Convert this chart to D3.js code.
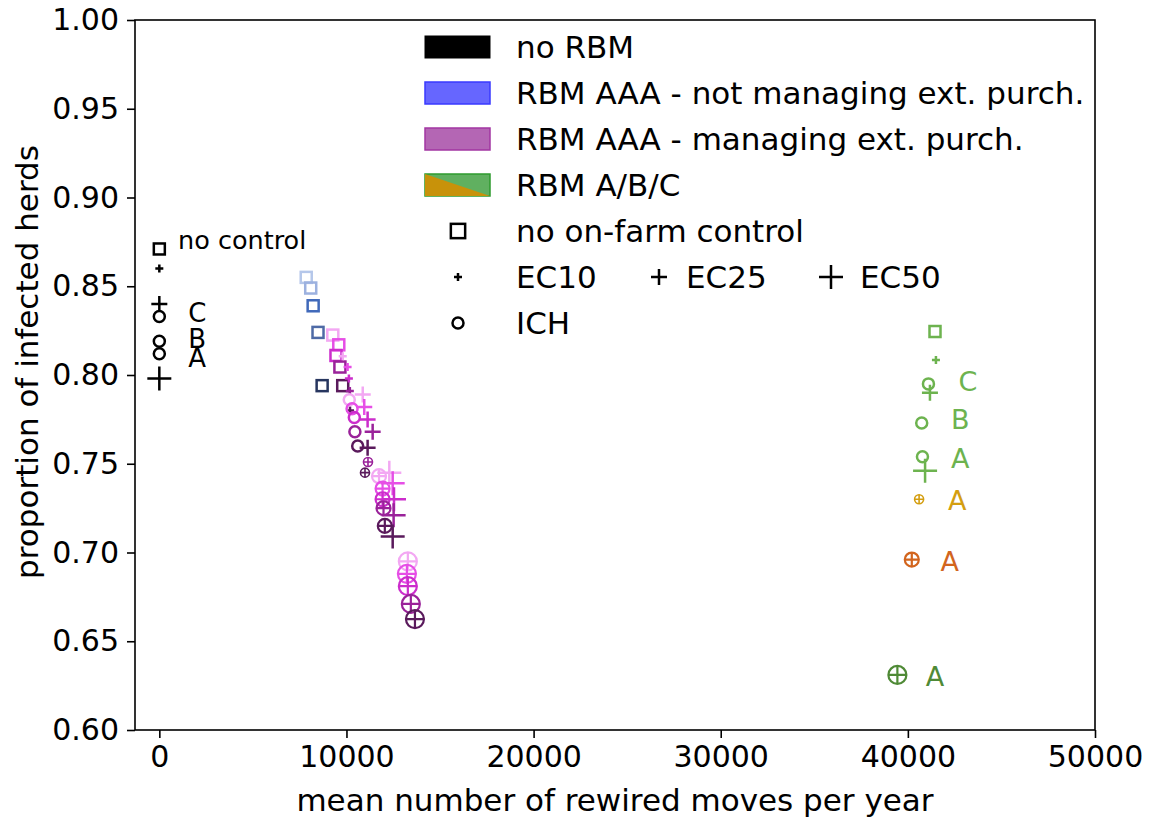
<!DOCTYPE html>
<html>
<head>
<meta charset="utf-8">
<script src="https://cdn.jsdelivr.net/npm/d3@7/dist/d3.min.js"></script>
<style>
  body { margin: 0; background: #fff; }
  text { font-family: "DejaVu Sans", sans-serif; }
</style>
</head>
<body>
<div id="chart"></div>
<script>
// ---- data ----
// kinds: none = no on-farm control, EC10/EC25/EC50, ICH, ICH+ECxx
var noRbm = [
  {kind: "none", x: 0, y: 0.871},
  {kind: "EC10", x: 0, y: 0.860},
  {kind: "EC25", x: 0, y: 0.840},
  {kind: "ICH",  x: 0, y: 0.833},
  {kind: "ICH",  x: 0, y: 0.819},
  {kind: "ICH",  x: 0, y: 0.812},
  {kind: "EC50", x: 0, y: 0.798}
];
var noRbmLabels = [
  {text: "C", x: 1550, y: 0.835},
  {text: "B", x: 1550, y: 0.8205},
  {text: "A", x: 1550, y: 0.8095}
];

// RBM AAA not managing ext. purchases, shade 0 (light) .. 4 (dark)
var aaaNotManaging = [
  {kind: "none", shade: 0, x: 7850, y: 0.855},
  {kind: "none", shade: 1, x: 8090, y: 0.849},
  {kind: "none", shade: 2, x: 8220, y: 0.839},
  {kind: "none", shade: 3, x: 8480, y: 0.824},
  {kind: "none", shade: 4, x: 8700, y: 0.794}
];

// RBM AAA managing ext. purchases
var aaaManaging = [
  {kind: "none", shade: 0, x: 9270, y: 0.8225},
  {kind: "none", shade: 1, x: 9590, y: 0.817},
  {kind: "none", shade: 2, x: 9440, y: 0.811},
  {kind: "none", shade: 3, x: 9650, y: 0.8045},
  {kind: "none", shade: 4, x: 9800, y: 0.794},
  {kind: "EC10", shade: 0, x: 9800, y: 0.8105},
  {kind: "EC10", shade: 1, x: 10060, y: 0.8045},
  {kind: "EC10", shade: 2, x: 10130, y: 0.798},
  {kind: "EC10", shade: 3, x: 10180, y: 0.791},
  {kind: "EC10", shade: 4, x: 10190, y: 0.780},
  {kind: "ICH",  shade: 0, x: 10150, y: 0.786},
  {kind: "ICH",  shade: 1, x: 10300, y: 0.781},
  {kind: "ICH",  shade: 2, x: 10420, y: 0.776},
  {kind: "ICH",  shade: 3, x: 10450, y: 0.768},
  {kind: "ICH",  shade: 4, x: 10600, y: 0.760},
  {kind: "EC25", shade: 0, x: 10870, y: 0.789},
  {kind: "EC25", shade: 1, x: 10950, y: 0.782},
  {kind: "EC25", shade: 2, x: 11130, y: 0.775},
  {kind: "EC25", shade: 3, x: 11400, y: 0.768},
  {kind: "EC25", shade: 4, x: 11130, y: 0.759},
  {kind: "ICH+EC10", shade: 3, x: 11150, y: 0.751},
  {kind: "ICH+EC10", shade: 4, x: 10990, y: 0.745},
  {kind: "ICH+EC25", shade: 0, x: 11740, y: 0.743},
  {kind: "ICH+EC25", shade: 1, x: 11930, y: 0.736},
  {kind: "ICH+EC25", shade: 2, x: 11930, y: 0.730},
  {kind: "ICH+EC25", shade: 3, x: 11980, y: 0.725},
  {kind: "ICH+EC25", shade: 4, x: 12050, y: 0.715},
  {kind: "EC50", shade: 0, x: 12290, y: 0.745},
  {kind: "EC50", shade: 1, x: 12470, y: 0.739},
  {kind: "EC50", shade: 2, x: 12540, y: 0.730},
  {kind: "EC50", shade: 3, x: 12520, y: 0.721},
  {kind: "EC50", shade: 4, x: 12470, y: 0.709},
  {kind: "ICH+EC50", shade: 0, x: 13280, y: 0.695},
  {kind: "ICH+EC50", shade: 1, x: 13230, y: 0.688},
  {kind: "ICH+EC50", shade: 2, x: 13280, y: 0.681},
  {kind: "ICH+EC50", shade: 3, x: 13440, y: 0.671},
  {kind: "ICH+EC50", shade: 4, x: 13660, y: 0.6625}
];

// RBM A/B/C
var rbmABC = [
  {kind: "none", tone: "green", x: 41450, y: 0.8245},
  {kind: "EC10", tone: "green", x: 41500, y: 0.8085},
  {kind: "ICH",  tone: "green", x: 41100, y: 0.795},
  {kind: "EC25", tone: "green", x: 41180, y: 0.790},
  {kind: "ICH",  tone: "green", x: 40740, y: 0.773},
  {kind: "ICH",  tone: "green", x: 40780, y: 0.754},
  {kind: "EC50", tone: "green", x: 40920, y: 0.746},
  {kind: "ICH+EC10", tone: "gold",   x: 40600, y: 0.730},
  {kind: "ICH+EC25", tone: "orange", x: 40210, y: 0.696},
  {kind: "ICH+EC50", tone: "dkgreen", x: 39440, y: 0.631}
];
var rbmABCLabels = [
  {text: "C", tone: "green",   x: 42700, y: 0.7966},
  {text: "B", tone: "green",   x: 42300, y: 0.7752},
  {text: "A", tone: "green",   x: 42300, y: 0.7532},
  {text: "A", tone: "gold",    x: 42150, y: 0.7296},
  {text: "A", tone: "orange",  x: 41750, y: 0.6952},
  {text: "A", tone: "dkgreen", x: 40950, y: 0.6304}
];

var xTicks = [0, 10000, 20000, 30000, 40000, 50000];
var yTicks = [0.60, 0.65, 0.70, 0.75, 0.80, 0.85, 0.90, 0.95, 1.00];

var legendPatches = ["no RBM", "RBM AAA - not managing ext. purch.", "RBM AAA - managing ext. purch.", "RBM A/B/C"];

// ---- styles ----
var blueShades = ["#b5c7ea", "#9cb1df", "#4069ba", "#4e6aa6", "#27365f"];
var magentaShades = ["#f3a8f3", "#e64ee6", "#cc2dcc", "#9a229a", "#5a1a5c"];
var tones = {green: "#6db34f", gold: "#d49e10", orange: "#d2651e", dkgreen: "#4f8a36"};

var width = 1152, height = 818;
var margin = {left: 135, right: 57, top: 20, bottom: 88};

var svg = d3.select("#chart").append("svg")
    .attr("width", width)
    .attr("height", height);

var x = d3.scaleLinear().domain([-1300, 50000]).range([margin.left, width - margin.right]);
var y = d3.scaleLinear().domain([0.6, 1.0]).range([height - margin.bottom, margin.top]);

// marker sizes
var sq = 11, lw = 2.5;
var plusHalf = {EC10: 4, EC25: 8, EC50: 12};
var ichR = 5.5;
var ringR = {"ICH+EC10": 4.5, "ICH+EC25": 7, "ICH+EC50": 9};

function drawMarker(g, kind, color, scale) {
    scale = scale || 1;
    if (kind === "none") {
        var s = sq * scale;
        g.append("rect").attr("x", -s/2).attr("y", -s/2).attr("width", s).attr("height", s)
            .attr("fill", "none").attr("stroke", color).attr("stroke-width", lw);
    } else if (plusHalf[kind]) {
        var h = plusHalf[kind] * scale;
        g.append("path").attr("d", "M" + (-h) + ",0H" + h + "M0," + (-h) + "V" + h)
            .attr("fill", "none").attr("stroke", color).attr("stroke-width", lw);
    } else if (kind === "ICH") {
        g.append("circle").attr("r", ichR * scale)
            .attr("fill", "none").attr("stroke", color).attr("stroke-width", lw);
    } else {
        var r = ringR[kind];
        var w = kind === "ICH+EC10" ? 1.6 : 2.2;
        g.append("circle").attr("r", r)
            .attr("fill", "none").attr("stroke", color).attr("stroke-width", w);
        g.append("path").attr("d", "M" + (-r) + ",0H" + r + "M0," + (-r) + "V" + r)
            .attr("fill", "none").attr("stroke", color).attr("stroke-width", w);
    }
}

function plotPoints(data, colorFn) {
    var gs = svg.append("g").selectAll("g")
        .data(data)
        .enter().append("g")
        .attr("transform", function(d) { return "translate(" + x(d.x) + "," + y(d.y) + ")"; });
    gs.each(function(d) { drawMarker(d3.select(this), d.kind, colorFn(d)); });
}

// ---- axes ----
var xAxis = d3.axisBottom(x).tickValues(xTicks).tickFormat(d3.format("d")).tickSize(8).tickPadding(8);
var yAxis = d3.axisLeft(y).tickValues(yTicks).tickFormat(d3.format(".2f")).tickSize(8).tickPadding(8);

var gx = svg.append("g").attr("transform", "translate(0," + (height - margin.bottom) + ")").call(xAxis);
var gy = svg.append("g").attr("transform", "translate(" + margin.left + ",0)").call(yAxis);
[gx, gy].forEach(function(g) {
    g.select(".domain").remove();
    g.selectAll(".tick line").attr("stroke", "#000").attr("stroke-width", 1.6);
    g.selectAll(".tick text").attr("font-size", 30).attr("fill", "#000")
        .style("font-family", "DejaVu Sans");
});

svg.append("rect")
    .attr("x", margin.left).attr("y", margin.top)
    .attr("width", width - margin.left - margin.right)
    .attr("height", height - margin.top - margin.bottom)
    .attr("fill", "none").attr("stroke", "#000").attr("stroke-width", 1.6);

svg.append("text")
    .attr("x", (margin.left + width - margin.right) / 2).attr("y", 811)
    .attr("text-anchor", "middle").attr("font-size", 31)
    .text("mean number of rewired moves per year");

svg.append("text")
    .attr("transform", "translate(38,362) rotate(-90)")
    .attr("text-anchor", "middle").attr("font-size", 31)
    .text("proportion of infected herds");

// ---- points ----
plotPoints(aaaNotManaging, function(d) { return blueShades[d.shade]; });
plotPoints(aaaManaging, function(d) { return magentaShades[d.shade]; });
plotPoints(rbmABC, function(d) { return tones[d.tone]; });
plotPoints(noRbm, function() { return "#000"; });

// annotations
svg.append("g").selectAll("text")
    .data(noRbmLabels)
    .enter().append("text")
    .attr("x", function(d) { return x(d.x); })
    .attr("y", function(d) { return y(d.y); })
    .attr("dy", "0.36em")
    .attr("font-size", 26)
    .text(function(d) { return d.text; });

svg.append("g").selectAll("text")
    .data(rbmABCLabels)
    .enter().append("text")
    .attr("x", function(d) { return x(d.x); })
    .attr("y", function(d) { return y(d.y); })
    .attr("dy", "0.36em")
    .attr("font-size", 27)
    .attr("fill", function(d) { return tones[d.tone]; })
    .text(function(d) { return d.text; });

svg.append("text")
    .attr("x", x(1000)).attr("y", y(0.876))
    .attr("dy", "0.36em")
    .attr("font-size", 25.5)
    .text("no control");

// ---- legend ----
var lg = svg.append("g");
var rowY = function(i) { return 47 + i * 46; };
var px0 = 425, pw = 65, ph = 22, tx = 516, fs = 31;

legendPatches.forEach(function(name, i) {
    var yy = rowY(i) - ph / 2;
    if (i === 0) {
        lg.append("rect").attr("x", px0).attr("y", yy).attr("width", pw).attr("height", ph)
            .attr("fill", "#000").attr("stroke", "#000");
    } else if (i === 1) {
        lg.append("rect").attr("x", px0).attr("y", yy).attr("width", pw).attr("height", ph)
            .attr("fill", "#6666ff").attr("stroke", "#3a3aff").attr("stroke-width", 1.5);
    } else if (i === 2) {
        lg.append("rect").attr("x", px0).attr("y", yy).attr("width", pw).attr("height", ph)
            .attr("fill", "#b466b4").attr("stroke", "#a236a2").attr("stroke-width", 1.5);
    } else {
        lg.append("rect").attr("x", px0).attr("y", yy).attr("width", pw).attr("height", ph)
            .attr("fill", "#60b060").attr("stroke", "#2e9a2e").attr("stroke-width", 1.5);
        lg.append("path")
            .attr("d", "M" + px0 + "," + yy + "L" + (px0 + pw) + "," + (yy + ph) + "L" + px0 + "," + (yy + ph) + "Z")
            .attr("fill", "#c8920a");
    }
    lg.append("text").attr("x", tx).attr("y", rowY(i)).attr("dy", "0.36em").attr("font-size", fs).text(name);
});

var mk = lg.append("g").attr("transform", "translate(458," + rowY(4) + ")");
drawMarker(mk, "none", "#000", 1.3);
lg.append("text").attr("x", tx).attr("y", rowY(4)).attr("dy", "0.36em").attr("font-size", fs).text("no on-farm control");

var ecRow = [["EC10", 458, 516], ["EC25", 659, 686], ["EC50", 831, 860]];
ecRow.forEach(function(e) {
    var g = lg.append("g").attr("transform", "translate(" + e[1] + "," + rowY(5) + ")");
    drawMarker(g, e[0], "#000");
    lg.append("text").attr("x", e[2]).attr("y", rowY(5)).attr("dy", "0.36em").attr("font-size", fs).text(e[0]);
});

var mc = lg.append("g").attr("transform", "translate(458," + rowY(6) + ")");
drawMarker(mc, "ICH", "#000");
lg.append("text").attr("x", tx).attr("y", rowY(6)).attr("dy", "0.36em").attr("font-size", fs).text("ICH");
</script>
</body>
</html>
